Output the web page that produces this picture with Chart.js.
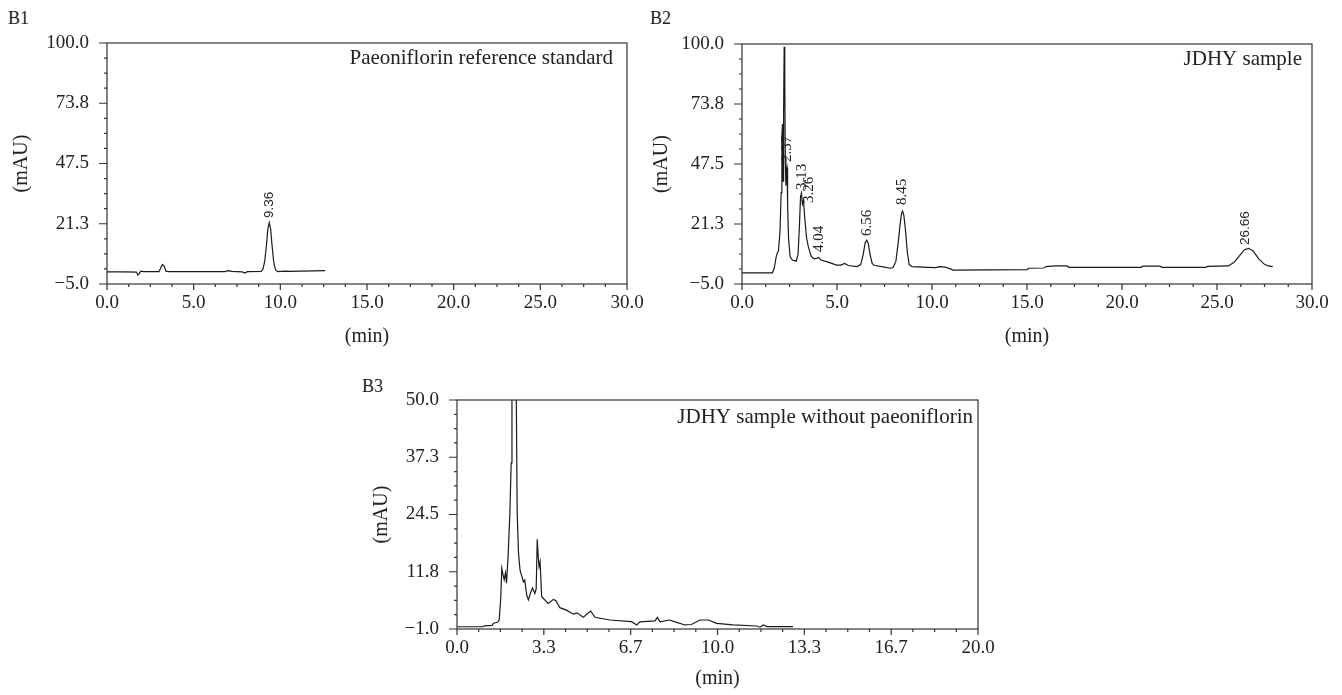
<!DOCTYPE html>
<html><head><meta charset="utf-8">
<script src="https://cdn.jsdelivr.net/npm/chart.js@4.4.1/dist/chart.umd.min.js"></script>
<style>
html,body{margin:0;padding:0;background:#fff;width:1342px;height:695px;overflow:hidden;position:relative}
canvas{position:absolute}
.lbl{position:absolute;font-family:"Liberation Serif",serif;font-size:18px;color:#222;line-height:18px}
</style></head><body>
<div class="lbl" style="left:8px;top:9px">B1</div>
<div class="lbl" style="left:650px;top:9px">B2</div>
<div class="lbl" style="left:362px;top:377px">B3</div>
<canvas id="c1" width="660" height="360" style="left:0;top:0"></canvas>
<canvas id="c2" width="702" height="360" style="left:640px;top:0"></canvas>
<canvas id="c3" width="660" height="335" style="left:360px;top:360px"></canvas>
<script>
// ---------- data ----------
const xTicks30 = [0, 5, 10, 15, 20, 25, 30];
const xLabels30 = ["0.0", "5.0", "10.0", "15.0", "20.0", "25.0", "30.0"];
const yTicks100 = [-5, 21.25, 47.5, 73.75, 100];
const yLabels100 = ["\u22125.0", "21.3", "47.5", "73.8", "100.0"];
const xTicks20 = [0, 10/3, 20/3, 10, 40/3, 50/3, 20];
const xLabels20 = ["0.0", "3.3", "6.7", "10.0", "13.3", "16.7", "20.0"];
const yTicks50 = [-1, 11.75, 24.5, 37.25, 50];
const yLabels50 = ["\u22121.0", "11.8", "24.5", "37.3", "50.0"];

// B1: Paeoniflorin reference standard
const b1Time  = [0, 1.0, 1.7, 1.78, 1.85, 1.95, 2.1, 3.0, 3.1, 3.2, 3.3, 3.4, 3.6, 6.8, 7.0, 7.2, 7.8, 7.95, 8.1, 8.9, 9.0, 9.1, 9.2, 9.28, 9.36, 9.44, 9.52, 9.62, 9.72, 9.85, 10.3, 10.5, 12.58];
const b1Value = [0.3, 0.3, 0.2, -1.1, -0.6, 0.6, 0.4, 0.4, 2.0, 3.5, 2.8, 0.6, 0.4, 0.4, 0.8, 0.5, 0.3, -0.2, 0.4, 0.5, 1.5, 5, 12, 19, 21.7, 19, 12, 4.5, 1.2, 0.4, 0.6, 0.5, 0.8];
const b1PeakLabels = ["9.36"];
const b1PeakX = [9.35];
const b1PeakY = [23.8];

// B2: JDHY sample
const b2Time  = [0, 1.6, 1.7, 1.8, 1.86, 1.92, 2.0, 2.06, 2.1, 2.13, 2.16, 2.19, 2.22, 2.25, 2.28, 2.31, 2.34, 2.37, 2.40, 2.45, 2.53, 2.65, 2.85, 2.95, 3.02, 3.08, 3.13, 3.18, 3.24, 3.3, 3.4, 3.5, 3.65, 3.8, 3.95, 4.04, 4.15, 4.45, 4.98, 5.2, 5.4, 5.6, 6.05, 6.25, 6.38, 6.48, 6.56, 6.64, 6.74, 6.85, 6.95, 7.5, 7.8, 7.95, 8.1, 8.22, 8.32, 8.4, 8.45, 8.52, 8.6, 8.7, 8.8, 8.95, 9.8, 10.2, 10.4, 10.7, 11.0, 11.1, 15.0, 15.1, 15.9, 16.0, 16.5, 17.1, 17.2, 21.0, 21.1, 22.0, 22.1, 24.4, 24.5, 25.6, 25.9, 26.2, 26.45, 26.66, 26.9, 27.2, 27.5, 27.7, 27.93];
const b2Value = [-0.1, -0.1, 2, 7, 8.6, 9.5, 18, 35, 60, 65, 40, 70, 98.8, 85, 50, 38, 45, 46, 30, 15, 7, 5.5, 5, 8, 20, 33, 34.8, 30, 31.7, 24, 15, 11, 7, 6, 6.3, 6.6, 5.5, 4.8, 3.3, 3.3, 4.0, 3.1, 2.6, 3.5, 8, 13, 14.2, 13, 8, 4, 3.2, 2.4, 1.9, 2.2, 5, 13, 21, 26, 26.9, 25, 19, 9, 3.5, 2.6, 2.3, 2.2, 2.6, 2.4, 1.5, 1.1, 1.3, 1.9, 2.0, 2.6, 2.9, 2.9, 2.3, 2.3, 2.8, 2.8, 2.3, 2.3, 2.7, 2.9, 4.5, 7.5, 10, 10.6, 9.5, 6, 3.6, 2.9, 2.6];
const b2PeakLabels = ["2.37", "3.13", "3.26", "4.04", "6.56", "8.45", "26.66"];
const b2PeakX = [2.37, 3.14, 3.53, 4.07, 6.56, 8.44, 26.47];
const b2PeakY = [48.4, 36.1, 30.4, 9.0, 16.0, 29.6, 12.1];

// B3: JDHY sample without paeoniflorin
const b3Time  = [0, 1.0, 1.05, 1.35, 1.4, 1.55, 1.62, 1.68, 1.72, 1.77, 1.81, 1.86, 1.9, 1.96, 2.03, 2.08, 2.11, 2.2, 2.27, 2.31, 2.36, 2.42, 2.5, 2.55, 2.6, 2.68, 2.74, 2.82, 2.9, 2.99, 3.04, 3.08, 3.12, 3.15, 3.19, 3.25, 3.5, 3.7, 3.8, 3.95, 4.2, 4.47, 4.6, 4.85, 5.0, 5.13, 5.3, 5.87, 6.7, 6.9, 7.02, 7.6, 7.69, 7.79, 8.17, 8.37, 8.75, 9.0, 9.33, 9.65, 9.97, 10.6, 11.5, 11.63, 11.76, 11.89, 12.9];
const b3Value = [-0.5, -0.5, -0.3, -0.2, 0.3, 0.5, 1.0, 6, 12.5, 11, 10, 11.5, 9.2, 15, 24.8, 36, 55, 60, 55, 25, 16, 12.1, 10.5, 9.5, 9.9, 6.5, 5.5, 7, 8.1, 6.9, 8, 19, 15, 12.9, 14, 6.2, 4.7, 5.6, 5.3, 3.75, 3.2, 2.3, 2.6, 1.6, 2.4, 3.0, 1.6, 1.0, 0.63, -0.1, 0.6, 0.8, 1.6, 0.6, 1.0, 0.6, -0.1, 0.0, 1.0, 1.0, 0.27, -0.1, -0.33, -0.6, -0.1, -0.45, -0.45];

// ---------- drawing ----------
const SERIF = '"Liberation Serif", "Times New Roman", serif';
Chart.defaults.font.family = SERIF;
Chart.defaults.color = '#222';

const decor = {
  id: 'decor',
  afterDraw(chart, args, o) {
    const {ctx, chartArea: a, scales: {x, y}} = chart;
    ctx.save();
    ctx.strokeStyle = '#333';
    ctx.lineWidth = 1.2;
    ctx.strokeRect(a.left, a.top, a.right - a.left, a.bottom - a.top);
    ctx.beginPath();
    const xt = o.xTicks, yt = o.yTicks;
    for (let i = 0; i < xt.length; i++) {
      const p = x.getPixelForValue(xt[i]);
      ctx.moveTo(p, a.bottom); ctx.lineTo(p, a.bottom + 6);
      if (i < xt.length - 1) for (let k = 1; k < 4; k++) {
        const q = x.getPixelForValue(xt[i] + (xt[i + 1] - xt[i]) * k / 4);
        ctx.moveTo(q, a.bottom); ctx.lineTo(q, a.bottom + 3);
      }
    }
    for (let i = 0; i < yt.length; i++) {
      const p = y.getPixelForValue(yt[i]);
      ctx.moveTo(a.left, p); ctx.lineTo(a.left - 8, p);
      if (i < yt.length - 1) for (let k = 1; k < 4; k++) {
        const q = y.getPixelForValue(yt[i] + (yt[i + 1] - yt[i]) * k / 4);
        ctx.moveTo(a.left, q); ctx.lineTo(a.left - 3, q);
      }
    }
    ctx.stroke();
    // peak labels
    ctx.fillStyle = '#222';
    (o.peakLabels || []).forEach((t, i) => {
      ctx.save();
      ctx.translate(x.getPixelForValue(o.peakX[i]), y.getPixelForValue(o.peakY[i]));
      ctx.rotate(-Math.PI / 2);
      ctx.font = (o.peakSans && o.peakSans[i]) ? '13.5px "Liberation Sans", Arial, sans-serif' : '15px ' + SERIF;
      ctx.textAlign = 'left';
      ctx.textBaseline = 'middle';
      ctx.fillText(t, 0, 0);
      ctx.restore();
    });
    // title
    ctx.font = '21px ' + SERIF;
    ctx.textAlign = 'right';
    ctx.textBaseline = 'alphabetic';
    ctx.fillText(o.title, a.right - o.titleDx, a.top + o.titleDy);
    ctx.restore();
  }
};

function toPoints(t, v) { return t.map((tt, i) => ({x: tt, y: v[i]})); }

function makeChart(id, c) {
  new Chart(document.getElementById(id), {
    type: 'line',
    data: {datasets: [{data: toPoints(c.time, c.value), borderColor: '#1a1a1a', borderWidth: 1.2,
      pointRadius: 0, tension: 0, fill: false}]},
    options: {
      animation: false, responsive: false,
      layout: {padding: {left: 0, top: c.padTop, right: c.padRight, bottom: 0}},
      plugins: {legend: {display: false}, tooltip: {enabled: false},
        decor: {xTicks: c.xTicks, yTicks: c.yTicks, peakLabels: c.peakLabels, peakX: c.peakX, peakY: c.peakY,
          peakSans: c.peakSans, title: c.title, titleDx: c.titleDx, titleDy: c.titleDy}},
      scales: {
        x: {type: 'linear', min: c.xTicks[0], max: c.xTicks[c.xTicks.length - 1],
          afterBuildTicks: s => { s.ticks = c.xTicks.map(v => ({value: v})); },
          afterFit: s => { s.height = c.xH; },
          grid: {display: false, drawTicks: false, tickLength: 0}, border: {display: false},
          ticks: {callback: (v, i) => c.xLabels[i], font: {size: 19}, color: '#222', padding: c.xPad, maxRotation: 0, autoSkip: false},
          title: {display: true, text: '(min)', font: {size: 20}, color: '#222', padding: {top: 0, bottom: c.xTitlePad}}},
        y: {type: 'linear', min: c.yTicks[0], max: c.yTicks[c.yTicks.length - 1],
          afterBuildTicks: s => { s.ticks = c.yTicks.map(v => ({value: v})); },
          afterFit: s => { s.width = c.yW; },
          grid: {display: false, drawTicks: false, tickLength: 0}, border: {display: false},
          ticks: {callback: (v, i) => c.yLabels[i], font: {size: 19}, color: '#222', padding: 18, autoSkip: false},
          title: {display: true, text: '(mAU)', font: {size: 20}, color: '#222', padding: {top: 10, bottom: 0}}}
      }
    },
    plugins: [decor]
  });
}

makeChart('c1', {time: b1Time, value: b1Value, xTicks: xTicks30, xLabels: xLabels30, yTicks: yTicks100, yLabels: yLabels100,
  peakLabels: b1PeakLabels, peakX: b1PeakX, peakY: b1PeakY, peakSans: [true],
  title: 'Paeoniflorin reference standard', titleDx: 14, titleDy: 21,
  padTop: 43, padRight: 33, xH: 76, yW: 107, xPad: 8, xTitlePad: 11});
makeChart('c2', {time: b2Time, value: b2Value, xTicks: xTicks30, xLabels: xLabels30, yTicks: yTicks100, yLabels: yLabels100,
  peakLabels: b2PeakLabels, peakX: b2PeakX, peakY: b2PeakY, peakSans: [false, false, false, false, false, false, true],
  title: 'JDHY sample', titleDx: 10, titleDy: 21,
  padTop: 44, padRight: 30, xH: 76, yW: 102, xPad: 8, xTitlePad: 11});
makeChart('c3', {time: b3Time, value: b3Value, xTicks: xTicks20, xLabels: xLabels20, yTicks: yTicks50, yLabels: yLabels50,
  peakLabels: [], peakX: [], peakY: [],
  title: 'JDHY sample without paeoniflorin', titleDx: 5, titleDy: 23,
  padTop: 40, padRight: 42, xH: 66, yW: 97, xPad: 8, xTitlePad: 4});
</script>
</body></html>
